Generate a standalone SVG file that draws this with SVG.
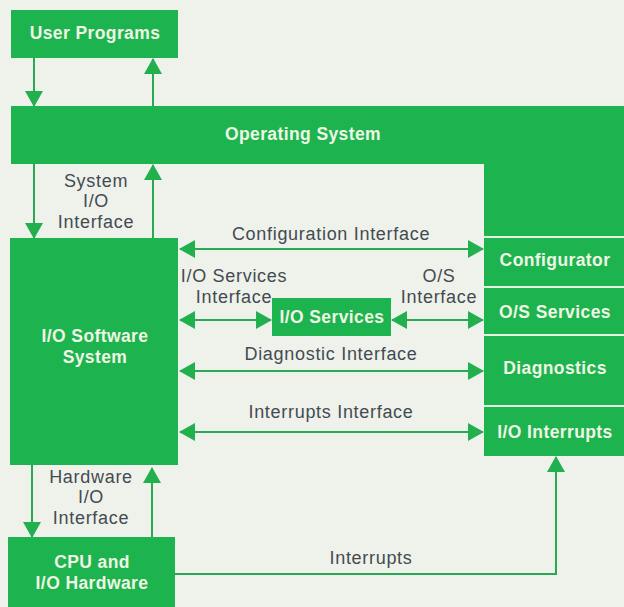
<svg xmlns="http://www.w3.org/2000/svg" width="624" height="607" viewBox="0 0 624 607">
<defs>
<style>
.box{fill:#1db34f}
.bt{fill:#eef6e4;font-family:"Liberation Sans",Arial,sans-serif;font-weight:bold;font-size:17.5px;letter-spacing:0.4px;text-anchor:middle}
.lb{fill:#434b51;font-family:"Liberation Sans",Arial,sans-serif;font-size:18px;letter-spacing:0.7px;text-anchor:middle}
.ln{stroke:#2aa955;stroke-width:2;fill:none}
.div{stroke:#e6f3df;stroke-width:2}
</style>
<marker id="ah" viewBox="0 0 16 18" refX="15" refY="9" markerWidth="16" markerHeight="18" markerUnits="userSpaceOnUse" orient="auto-start-reverse">
<path d="M0,0 L16,9 L0,18 Z" fill="#22b04f"/>
</marker>
</defs>
<rect width="624" height="607" fill="#eff2eb"/>

<g id="user-programs">
<rect class="box" x="11" y="10" width="167" height="48"/>
<text class="bt" x="95" y="39">User Programs</text>
</g>

<g id="operating-system">
<path class="box" d="M11,106 H624 V456 H484 V164 H11 Z"/>
<text class="bt" x="303" y="140">Operating System</text>
</g>

<g id="configurator">
<line class="div" x1="484" y1="237" x2="624" y2="237"/>
<text class="bt" x="555" y="266">Configurator</text>
</g>
<g id="os-services">
<line class="div" x1="484" y1="287" x2="624" y2="287"/>
<text class="bt" x="555" y="318">O/S Services</text>
</g>
<g id="diagnostics">
<line class="div" x1="484" y1="335" x2="624" y2="335"/>
<text class="bt" x="555" y="374">Diagnostics</text>
</g>
<g id="io-interrupts">
<line class="div" x1="484" y1="406" x2="624" y2="406"/>
<text class="bt" x="555" y="438">I/O Interrupts</text>
</g>

<g id="io-software-system">
<rect class="box" x="10" y="238" width="168" height="227"/>
<text class="bt" x="95" y="342">I/O Software</text>
<text class="bt" x="95" y="363">System</text>
</g>

<g id="io-services">
<rect class="box" x="272" y="298" width="119" height="38"/>
<text class="bt" x="332" y="323">I/O Services</text>
</g>

<g id="cpu-io-hardware">
<rect class="box" x="8" y="537" width="167" height="70"/>
<text class="bt" x="92" y="568">CPU and</text>
<text class="bt" x="92" y="589">I/O Hardware</text>
</g>

<g id="connectors">
<line class="ln" x1="34" y1="58" x2="34" y2="106" marker-end="url(#ah)"/>
<line class="ln" x1="153" y1="106" x2="153" y2="59" marker-end="url(#ah)"/>
<line class="ln" x1="34" y1="164" x2="34" y2="238" marker-end="url(#ah)"/>
<line class="ln" x1="153" y1="238" x2="153" y2="165" marker-end="url(#ah)"/>
<line class="ln" x1="180" y1="249" x2="483" y2="249" marker-start="url(#ah)" marker-end="url(#ah)"/>
<line class="ln" x1="180" y1="320" x2="271" y2="320" marker-start="url(#ah)" marker-end="url(#ah)"/>
<line class="ln" x1="392" y1="320" x2="483" y2="320" marker-start="url(#ah)" marker-end="url(#ah)"/>
<line class="ln" x1="180" y1="371" x2="483" y2="371" marker-start="url(#ah)" marker-end="url(#ah)"/>
<line class="ln" x1="180" y1="432" x2="483" y2="432" marker-start="url(#ah)" marker-end="url(#ah)"/>
<line class="ln" x1="32" y1="465" x2="32" y2="537" marker-end="url(#ah)"/>
<line class="ln" x1="152" y1="537" x2="152" y2="468" marker-end="url(#ah)"/>
<path class="ln" d="M175,574 H556 V457" marker-end="url(#ah)"/>
</g>

<g id="labels">
<text class="lb" x="96" y="187">System</text>
<text class="lb" x="96" y="207">I/O</text>
<text class="lb" x="96" y="228">Interface</text>
<text class="lb" x="331" y="240">Configuration Interface</text>
<text class="lb" x="234" y="282">I/O Services</text>
<text class="lb" x="234" y="303">Interface</text>
<text class="lb" x="439" y="282">O/S</text>
<text class="lb" x="439" y="303">Interface</text>
<text class="lb" x="331" y="360">Diagnostic Interface</text>
<text class="lb" x="331" y="418">Interrupts Interface</text>
<text class="lb" x="91" y="483">Hardware</text>
<text class="lb" x="91" y="503">I/O</text>
<text class="lb" x="91" y="524">Interface</text>
<text class="lb" x="371" y="564">Interrupts</text>
</g>
</svg>
